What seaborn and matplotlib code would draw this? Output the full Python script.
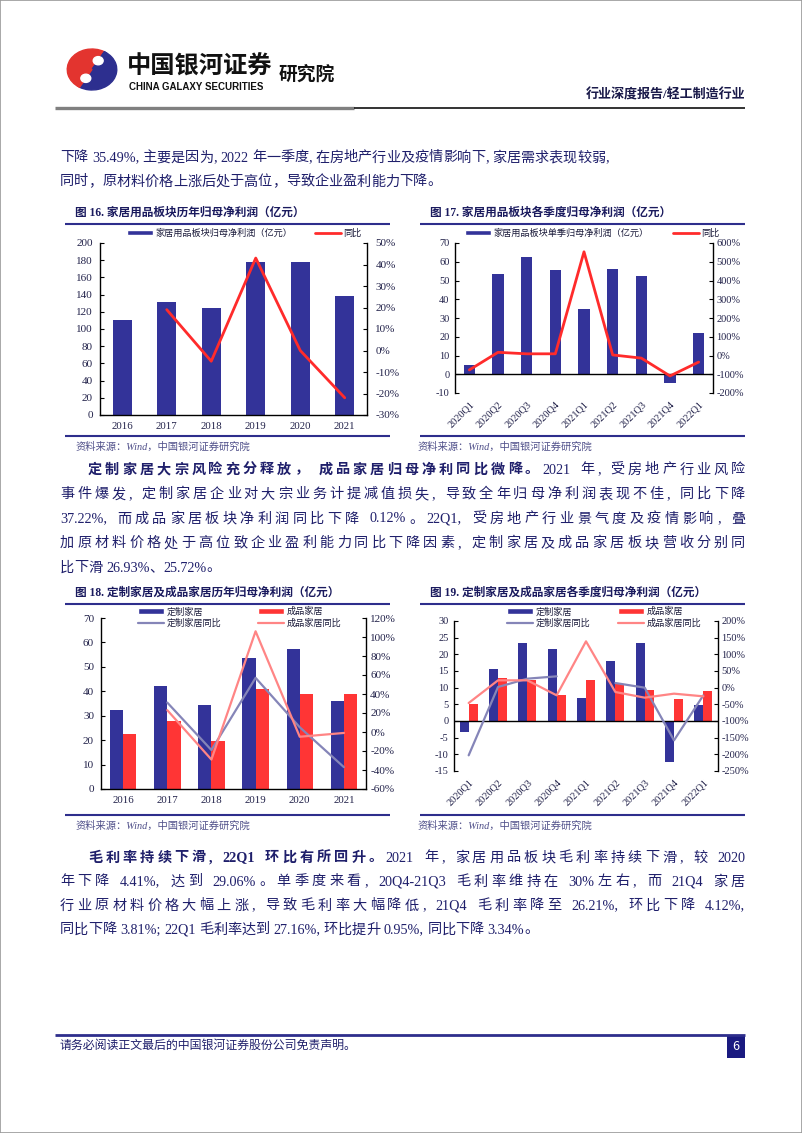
import re

import numpy as np
import pandas as pd
import matplotlib
matplotlib.use("Agg")
import matplotlib.pyplot as plt
import seaborn as sns
from matplotlib.patches import Patch, Rectangle, Wedge, Circle
from matplotlib.lines import Line2D

W, H = 802, 1133

# ---- data ----
years = ["2016", "2017", "2018", "2019", "2020", "2021"]
quarters = ["2020Q1", "2020Q2", "2020Q3", "2020Q4", "2021Q1",
            "2021Q2", "2021Q3", "2021Q4", "2022Q1"]

# fig 16
home_profit = [110, 131, 124, 177.5, 177.5, 138.5]
home_profit_yoy = [np.nan, 19, -5, 43, 0, -22]
# fig 17
home_q_profit = [5, 53.5, 62.8, 55.6, 34.6, 55.9, 52.4, -4.6, 22]
home_q_yoy = [-77, 17, 9, 9, 553, 3, -14, -109, -35]
# fig 18
custom_profit = [32.2, 42.3, 34.4, 53.8, 57.4, 35.9]
finished_profit = [22.6, 27.7, 19.8, 40.9, 38.7, 38.7]
custom_yoy = [np.nan, 31, -19, 57, 5, -37]
finished_yoy = [np.nan, 23, -29, 106, -5, -1]
# fig 19
custom_q_profit = [-3.3, 15.5, 23.4, 21.6, 6.8, 18, 23.5, -12.3, 4.9]
finished_q_profit = [5, 12.8, 12.4, 7.9, 12.2, 11.2, 9.2, 6.5, 9]
custom_q_yoy = [-203, 2, 27, 34, np.nan, 14, 0, -158, -23]
finished_q_yoy = [-46, 22, 22, -23, 139, -13, -30, -18, -26]

NAVY = "#333399"
RED = "#ff2b2b"
RED_BAR = "#ff3535"
CUSTOM_LINE = "#8585b8"
FINISHED_LINE = "#ff8585"
TEXT = "#1f1f6b"
TICKC = "#22224a"
RULE = "#2e2e8c"
SRC = "#50508a"

SERIF_CJK = ["Liberation Serif", "Noto Sans CJK SC"]
SANS_CJK = ["Noto Sans CJK SC", "DejaVu Sans"]

sns.set_theme(style="white")
plt.rcParams["font.family"] = SERIF_CJK
plt.rcParams["axes.unicode_minus"] = False

fig = plt.figure(figsize=(W / 100, H / 100), dpi=100)
renderer = fig.canvas.get_renderer()


def fx(x):
    return x / W


def fy(y):
    return 1 - y / H


def add_ax(l, t, r, b):
    return fig.add_axes([fx(l), fy(b), (r - l) / W, (b - t) / H])


def hline(x0, x1, y, color, lw):
    fig.add_artist(Line2D([fx(x0), fx(x1)], [fy(y), fy(y)], color=color, lw=lw,
                          solid_capstyle="butt"))


TOK = re.compile(r"[A-Za-z0-9.%\-,;]+|\s+|.")
BODY_SIZE = 10.2


def text_line(segs, x0, y, x1=None, size=BODY_SIZE, color=TEXT):
    items = []
    for s, bold in segs:
        for tok in TOK.findall(s):
            if tok.isspace():
                items.append((None, size * 0.25 * 100 / 72))
                continue
            t = fig.text(0, fy(y), tok, fontsize=size, color=color, va="center",
                         ha="left", family=SERIF_CJK,
                         weight="bold" if bold else "normal")
            items.append((t, t.get_window_extent(renderer).width))
    total = sum(w for _, w in items)
    gap = 0.0
    if x1 is not None and len(items) > 1:
        gap = (x1 - x0 - total) / (len(items) - 1)
    x = x0
    for t, w in items:
        if t is not None:
            t.set_x(fx(x))
        x += w + gap


def style_chart(ax, ax2, n, ylim, ystep, y2lim, y2step, lsize, xsize, lpad, rpad):
    ax.set_xlim(-0.5, n - 0.5)
    ax.set_ylim(ylim)
    ax.set_yticks(np.arange(ylim[0], ylim[1] + 0.1, ystep))
    ax2.set_ylim(y2lim)
    t2 = np.arange(y2lim[0], y2lim[1] + 0.1, y2step)
    ax2.set_yticks(t2)
    ax2.set_yticklabels([f"{int(v)}%" for v in t2])
    ax.set_xlabel("")
    ax.set_ylabel("")
    for a in (ax, ax2):
        a.grid(False)
        a.set_facecolor("none")
        for s in a.spines.values():
            s.set_visible(False)
    ax.spines["left"].set_visible(True)
    ax.spines["left"].set_color("black")
    ax.spines["left"].set_linewidth(1)
    ax2.spines["right"].set_visible(True)
    ax2.spines["right"].set_color("black")
    ax2.spines["right"].set_linewidth(1)
    if ylim[0] == 0:
        ax.spines["bottom"].set_visible(True)
        ax.spines["bottom"].set_color("black")
        ax.spines["bottom"].set_linewidth(1)
    else:
        ax.axhline(0, color="black", lw=1, zorder=1)
    ax.tick_params(axis="y", left=True, direction="in", length=3, width=0.8,
                   color="black", labelsize=lsize, labelcolor=TICKC, pad=lpad)
    ax2.tick_params(axis="y", right=True, direction="in", length=3, width=0.8,
                    color="black", labelsize=lsize, labelcolor=TICKC, pad=rpad)
    ax.tick_params(axis="x", bottom=False, length=0, labelsize=xsize,
                   labelcolor=TICKC)


def legend_at(handles, labels, x, y, spacing=0.25):
    fig.legend(handles=handles, labels=labels, loc="center left",
               bbox_to_anchor=(fx(x), fy(y)), frameon=False,
               prop={"family": SANS_CJK, "size": 6.6}, labelcolor="#1a1a3a",
               handlelength=2.8, handleheight=0.55, handletextpad=0.3,
               borderpad=0, borderaxespad=0, labelspacing=spacing)


bar_h = Patch(facecolor=NAVY)
red_bar_h = Patch(facecolor=RED_BAR)

# ---- page frame / header ----
fig.add_artist(Rectangle((0, 0), 1, 1, transform=fig.transFigure, fill=False,
                         edgecolor="#9a9a9a", lw=1.2))

logo = fig.add_axes([fx(66), fy(91), 52 / W, 43 / H])
logo.set_xlim(-1.05, 1.05)
logo.set_ylim(-1.05, 1.05)
logo.axis("off")
logo.add_patch(Wedge((0, 0), 1, 60, 240, color="#e3342f"))
logo.add_patch(Wedge((0, 0), 1, 240, 420, color="#2d2f8f"))
logo.add_patch(Wedge((0.25, 0.43), 0.5, 240, 60, color="#2d2f8f"))
logo.add_patch(Wedge((-0.25, -0.43), 0.5, 60, 240, color="#e3342f"))
logo.add_patch(Circle((0.25, 0.43), 0.2, color="white"))
logo.add_patch(Circle((-0.25, -0.43), 0.2, color="white"))

fig.text(fx(127), fy(67), "中国银河证券", fontsize=17.5, weight="bold",
         family=SANS_CJK, color="#111111", va="center", ha="left")
fig.text(fx(129), fy(87), "CHINA GALAXY SECURITIES", fontsize=7, weight="bold",
         family=["Liberation Sans"], color="#111111", va="center", ha="left")
fig.text(fx(279), fy(74), "研究院", fontsize=13.5, weight="bold",
         family=SANS_CJK, color="#111111", va="center", ha="left")
fig.text(fx(745), fy(95), "行业深度报告/轻工制造行业", fontsize=9.4, weight="bold",
         family=SERIF_CJK, color="#1a1a4a", va="center", ha="right")
hline(55, 354, 108, "#808080", 2.4)
hline(354, 745, 108, "#111111", 1.2)

# ---- paragraph 1 ----
text_line([("下降 35.49%, 主要是因为, 2022 年一季度, 在房地产行业及疫情影响下, 家居需求表现较弱,", False)], 60, 158)
text_line([("同时，原材料价格上涨后处于高位，导致企业盈利能力下降。", False)], 60, 182)

# ---- fig 16 ----
fig.text(fx(75), fy(213), "图 16. 家居用品板块历年归母净利润（亿元）", fontsize=8.4,
         weight="bold", color="#1a1a5e", va="center", ha="left")
hline(65, 390, 224, RULE, 1.5)
ax = add_ax(100, 243, 367, 415)
sns.barplot(x=years, y=home_profit, color=NAVY, saturation=1, width=0.42,
            linewidth=0, errorbar=None, ax=ax)
ax2 = ax.twinx()
ax2.plot(range(len(years)), home_profit_yoy, color=RED, lw=2)
style_chart(ax, ax2, len(years), (0, 200), 20, (-30, 50), 10, 8, 7.8, 5, 6)
ax.tick_params(axis="x", pad=5)
legend_at([bar_h], ["家居用品板块归母净利润（亿元）"], 127, 233)
legend_at([Line2D([0], [0], color=RED, lw=2)], ["同比"], 315, 233)
hline(65, 390, 436, RULE, 1.5)
fig.text(fx(75), fy(447), "资料来源：Wind，中国银河证券研究院", fontsize=7.4,
         style="italic", color=SRC, va="center", ha="left")

# ---- fig 17 ----
fig.text(fx(430), fy(213), "图 17. 家居用品板块各季度归母净利润（亿元）", fontsize=8.4,
         weight="bold", color="#1a1a5e", va="center", ha="left")
hline(420, 745, 224, RULE, 1.5)
ax = add_ax(455, 243, 713, 393)
sns.barplot(x=quarters, y=home_q_profit, color=NAVY, saturation=1, width=0.4,
            linewidth=0, errorbar=None, ax=ax)
ax2 = ax.twinx()
ax2.plot(range(len(quarters)), home_q_yoy, color=RED, lw=2)
style_chart(ax, ax2, len(quarters), (-10, 70), 10, (-200, 600), 100, 7.5, 7.4, 4, 2.5)
ax.set_xticks(range(len(quarters)))
ax.set_xticklabels(quarters, rotation=45, ha="right", rotation_mode="anchor")
ax.tick_params(axis="x", pad=5)
legend_at([bar_h], ["家居用品板块单季归母净利润（亿元）"], 465, 233)
legend_at([Line2D([0], [0], color=RED, lw=2)], ["同比"], 673, 233)
hline(420, 745, 436, RULE, 1.5)
fig.text(fx(418), fy(447), "资料来源：Wind，中国银河证券研究院", fontsize=7.4,
         style="italic", color=SRC, va="center", ha="left")

# ---- paragraph 2 ----
p2y = [470, 494.5, 519, 543.5, 568]
text_line([("定制家居大宗风险充分释放， 成品家居归母净利同比微降。", True),
           ("2021 年, 受房地产行业风险", False)], 88, p2y[0], 745)
text_line([("事件爆发, 定制家居企业对大宗业务计提减值损失, 导致全年归母净利润表现不佳, 同比下降", False)], 60, p2y[1], 745)
text_line([("37.22%, 而成品家居板块净利润同比下降 0.12%。22Q1, 受房地产行业景气度及疫情影响, 叠", False)], 60, p2y[2], 745)
text_line([("加原材料价格处于高位致企业盈利能力同比下降因素, 定制家居及成品家居板块营收分别同", False)], 60, p2y[3], 745)
text_line([("比下滑 26.93%、25.72%。", False)], 60, p2y[4])

# ---- fig 18 ----
fig.text(fx(75), fy(593), "图 18. 定制家居及成品家居历年归母净利润（亿元）", fontsize=8.4,
         weight="bold", color="#1a1a5e", va="center", ha="left")
hline(65, 390, 604, RULE, 1.5)
df18 = pd.DataFrame({
    "year": years * 2,
    "profit": custom_profit + finished_profit,
    "kind": ["定制家居"] * len(years) + ["成品家居"] * len(years),
})
ax = add_ax(101, 618, 366, 789)
sns.barplot(data=df18, x="year", y="profit", hue="kind", palette=[NAVY, RED_BAR],
            saturation=1, width=0.6, gap=0, linewidth=0, errorbar=None,
            legend=False, ax=ax)
ax2 = ax.twinx()
ax2.plot(range(len(years)), custom_yoy, color=CUSTOM_LINE, lw=1.6)
ax2.plot(range(len(years)), finished_yoy, color=FINISHED_LINE, lw=1.6)
style_chart(ax, ax2, len(years), (0, 70), 10, (-60, 120), 20, 8, 7.8, 5, 3)
ax.tick_params(axis="x", pad=5)
legend_at([bar_h, Line2D([0], [0], color=CUSTOM_LINE, lw=1.6)],
          ["定制家居", "定制家居同比"], 138, 617.5)
legend_at([red_bar_h, Line2D([0], [0], color=FINISHED_LINE, lw=1.6)],
          ["成品家居", "成品家居同比"], 258, 617.5)
hline(65, 390, 815, RULE, 1.5)
fig.text(fx(75), fy(826), "资料来源：Wind，中国银河证券研究院", fontsize=7.4,
         style="italic", color=SRC, va="center", ha="left")

# ---- fig 19 ----
fig.text(fx(430), fy(593), "图 19. 定制家居及成品家居各季度归母净利润（亿元）", fontsize=8.4,
         weight="bold", color="#1a1a5e", va="center", ha="left")
hline(420, 745, 604, RULE, 1.5)
df19 = pd.DataFrame({
    "quarter": quarters * 2,
    "profit": custom_q_profit + finished_q_profit,
    "kind": ["定制家居"] * len(quarters) + ["成品家居"] * len(quarters),
})
ax = add_ax(454, 621, 718, 771)
sns.barplot(data=df19, x="quarter", y="profit", hue="kind", palette=[NAVY, RED_BAR],
            saturation=1, width=0.62, gap=0, linewidth=0, errorbar=None,
            legend=False, ax=ax)
ax2 = ax.twinx()
ax2.plot(range(len(quarters)), custom_q_yoy, color=CUSTOM_LINE, lw=1.6)
ax2.plot(range(len(quarters)), finished_q_yoy, color=FINISHED_LINE, lw=1.6)
style_chart(ax, ax2, len(quarters), (-15, 30), 5, (-250, 200), 50, 7.5, 7.4, 4, 2.5)
ax.set_xticks(range(len(quarters)))
ax.set_xticklabels(quarters, rotation=45, ha="right", rotation_mode="anchor")
ax.tick_params(axis="x", pad=5)
legend_at([bar_h, Line2D([0], [0], color=CUSTOM_LINE, lw=1.6)],
          ["定制家居", "定制家居同比"], 507, 617.5)
legend_at([red_bar_h, Line2D([0], [0], color=FINISHED_LINE, lw=1.6)],
          ["成品家居", "成品家居同比"], 618, 617.5)
hline(420, 745, 815, RULE, 1.5)
fig.text(fx(418), fy(826), "资料来源：Wind，中国银河证券研究院", fontsize=7.4,
         style="italic", color=SRC, va="center", ha="left")

# ---- paragraph 3 ----
p3y = [858, 882, 906, 930]
text_line([("毛利率持续下滑, 22Q1 环比有所回升。", True),
           ("2021 年, 家居用品板块毛利率持续下滑, 较 2020", False)], 88, p3y[0], 745)
text_line([("年下降 4.41%, 达到 29.06%。单季度来看, 20Q4-21Q3 毛利率维持在 30%左右, 而 21Q4 家居", False)], 60, p3y[1], 745)
text_line([("行业原材料价格大幅上涨, 导致毛利率大幅降低, 21Q4 毛利率降至 26.21%, 环比下降 4.12%,", False)], 60, p3y[2], 745)
text_line([("同比下降 3.81%; 22Q1 毛利率达到 27.16%, 环比提升 0.95%, 同比下降 3.34%。", False)], 60, p3y[3])

# ---- footer ----
hline(55, 745, 1035, RULE, 2)
fig.text(fx(60), fy(1047), "请务必阅读正文最后的中国银河证券股份公司免责声明。", fontsize=8.6,
         color=TEXT, va="center", ha="left")
fig.add_artist(Rectangle((fx(727), fy(1058)), 18 / W, 23 / H, transform=fig.transFigure,
                         facecolor="#1a1a80", edgecolor="none"))
fig.text(fx(736), fy(1046.5), "6", fontsize=9, color="white", family=SANS_CJK,
         va="center", ha="center")

fig.savefig("out.png", dpi=100)
